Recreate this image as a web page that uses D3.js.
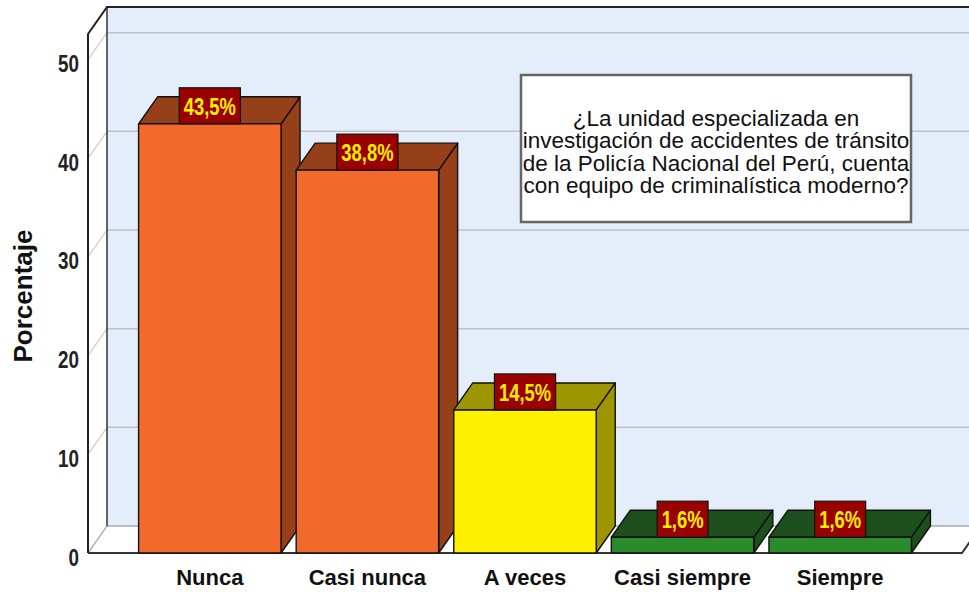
<!DOCTYPE html>
<html><head><meta charset="utf-8">
<script src="https://cdn.jsdelivr.net/npm/d3@7/dist/d3.min.js"></script>
<style>html,body{margin:0;padding:0;background:#fff;}svg{display:block;}</style>
</head><body>
<script>
const categories = ["Nunca", "Casi nunca", "A veces", "Casi siempre", "Siempre"];
const values = [43.5, 38.8, 14.5, 1.6, 1.6];
const valueLabels = ["43,5%", "38,8%", "14,5%", "1,6%", "1,6%"];
const yTicks = [0, 10, 20, 30, 40, 50];
const yTitle = "Porcentaje";
const noteLines = ["¿La unidad especializada en", "investigación de accidentes de tránsito", "de la Policía Nacional del Perú, cuenta", "con equipo de criminalística moderno?"];
const frontColors = ["#F2692C", "#F2692C", "#FFF000", "#2A8A2C", "#2A8A2C"];
const darkColors = ["#964019", "#964019", "#9E9600", "#1C4F1C", "#1C4F1C"];

const W = 969, H = 592;
const DX = 19, DY = 27;
const svg = d3.select("body").append("svg").attr("width", W).attr("height", H);

const x = d3.scaleBand().domain(categories).range([88, 962]).paddingInner(0.096).paddingOuter(0.321);
const y = d3.scaleLinear().domain([0, 52.6]).range([553, 34]);
const y0 = y(0), yTop = y.range()[1];
const xL = x.range()[0], xR = x.range()[1];

// back wall
svg.append("rect").attr("x", xL + DX).attr("y", yTop - DY).attr("width", xR - xL + 20).attr("height", y0 - yTop)
  .attr("fill", "#E3EEFA");
// left wall
svg.append("polygon").attr("points", [[xL, yTop], [xL + DX, yTop - DY], [xL + DX, y0 - DY], [xL, y0]].join(" "))
  .attr("fill", "#fff");
// floor
svg.append("polygon").attr("points", [[xL, y0], [xL + DX, y0 - DY], [xR + DX, y0 - DY], [xR, y0]].join(" "))
  .attr("fill", "#fff");

// gridlines
yTicks.filter(t => t > 0).forEach(t => {
  svg.append("line").attr("x1", xL + DX).attr("x2", W + 20).attr("y1", y(t) - DY).attr("y2", y(t) - DY)
    .attr("stroke", "#C2C2C2").attr("stroke-width", 1.5);
  svg.append("line").attr("x1", xL).attr("x2", xL + DX).attr("y1", y(t)).attr("y2", y(t) - DY)
    .attr("stroke", "#CCCCCC").attr("stroke-width", 1.2);
});
// floor back edge
svg.append("line").attr("x1", xL + DX).attr("x2", W + 20).attr("y1", y0 - DY).attr("y2", y0 - DY)
  .attr("stroke", "#888").attr("stroke-width", 1.2);
// left wall diag floor
svg.append("line").attr("x1", xL).attr("x2", xL + DX).attr("y1", y0).attr("y2", y0 - DY)
  .attr("stroke", "#999").attr("stroke-width", 1.2);
// back wall left edge
svg.append("line").attr("x1", xL + DX).attr("x2", xL + DX).attr("y1", yTop - DY).attr("y2", y0 - DY)
  .attr("stroke", "#333").attr("stroke-width", 1.5);
// frame: front axis, top diag, top edge
svg.append("path").attr("d", `M${xL},${y0}L${xL},${yTop}L${xL + DX},${yTop - DY}L${W + 20},${yTop - DY}`)
  .attr("fill", "none").attr("stroke", "#222").attr("stroke-width", 2);
// floor front edge
svg.append("path").attr("d", `M${xL},${y0}L${xR},${y0}L${xR + DX},${y0 - DY}`)
  .attr("fill", "none").attr("stroke", "#333").attr("stroke-width", 2);

// bars
const bars = svg.append("g");
categories.forEach((c, i) => {
  const x0 = x(c), x1 = x0 + x.bandwidth(), yt = y(values[i]);
  const g = bars.append("g").attr("stroke", "#111").attr("stroke-width", 1.4).attr("stroke-linejoin", "round");
  g.append("polygon").attr("points", [[x1, yt], [x1 + DX, yt - DY], [x1 + DX, y0 - DY], [x1, y0]].join(" ")).attr("fill", darkColors[i]);
  g.append("polygon").attr("points", [[x0, yt], [x0 + DX, yt - DY], [x1 + DX, yt - DY], [x1, yt]].join(" ")).attr("fill", darkColors[i]);
  g.append("rect").attr("x", x0).attr("y", yt).attr("width", x1 - x0).attr("height", y0 - yt).attr("fill", frontColors[i]);
});

const SX = 0.8;
// value labels
categories.forEach((c, i) => {
  const cx = x(c) + x.bandwidth() / 2, yt = y(values[i]);
  const g = svg.append("g");
  const t = g.append("text").attr("font-family", "Liberation Sans, Arial, sans-serif").attr("font-weight", "bold")
    .attr("font-size", 23).attr("fill", "#FFEE00").attr("text-anchor", "middle")
    .attr("transform", `translate(${cx},${yt - 9}) scale(${SX},1)`).text(valueLabels[i]);
  const w = t.node().getComputedTextLength() * SX + 9;
  g.insert("rect", "text").attr("x", cx - w / 2).attr("y", yt - 36).attr("width", w).attr("height", 36)
    .attr("fill", "#990000").attr("stroke", "#111").attr("stroke-width", 1.2);
});

// y tick labels
yTicks.forEach(t => {
  svg.append("text").attr("font-family", "Liberation Sans, Arial, sans-serif").attr("font-weight", "bold")
    .attr("font-size", 23.5).attr("fill", "#222").attr("text-anchor", "end")
    .attr("transform", `translate(79,${y(t) + 12.5}) scale(0.8,1)`).text(t);
});

// x labels
categories.forEach(c => {
  svg.append("text").attr("x", x(c) + x.bandwidth() / 2).attr("y", 585)
    .attr("font-family", "Liberation Sans, Arial, sans-serif").attr("font-weight", "bold")
    .attr("font-size", 22).attr("fill", "#111").attr("text-anchor", "middle").text(c);
});

// y title
svg.append("text").attr("transform", "translate(32,296) rotate(-90)")
  .attr("font-family", "Liberation Sans, Arial, sans-serif").attr("font-weight", "bold")
  .attr("font-size", 26).attr("fill", "#111").attr("text-anchor", "middle").text(yTitle);

// note box
svg.append("rect").attr("x", 521).attr("y", 75).attr("width", 390).attr("height", 147)
  .attr("fill", "#fff").attr("stroke", "#666").attr("stroke-width", 2.5);
noteLines.forEach((l, i) => {
  svg.append("text").attr("x", 716).attr("y", 125.5 + i * 22.6)
    .attr("font-family", "Liberation Sans, Arial, sans-serif").attr("font-size", 22.5)
    .attr("fill", "#111").attr("text-anchor", "middle").text(l);
});
</script>
</body></html>
